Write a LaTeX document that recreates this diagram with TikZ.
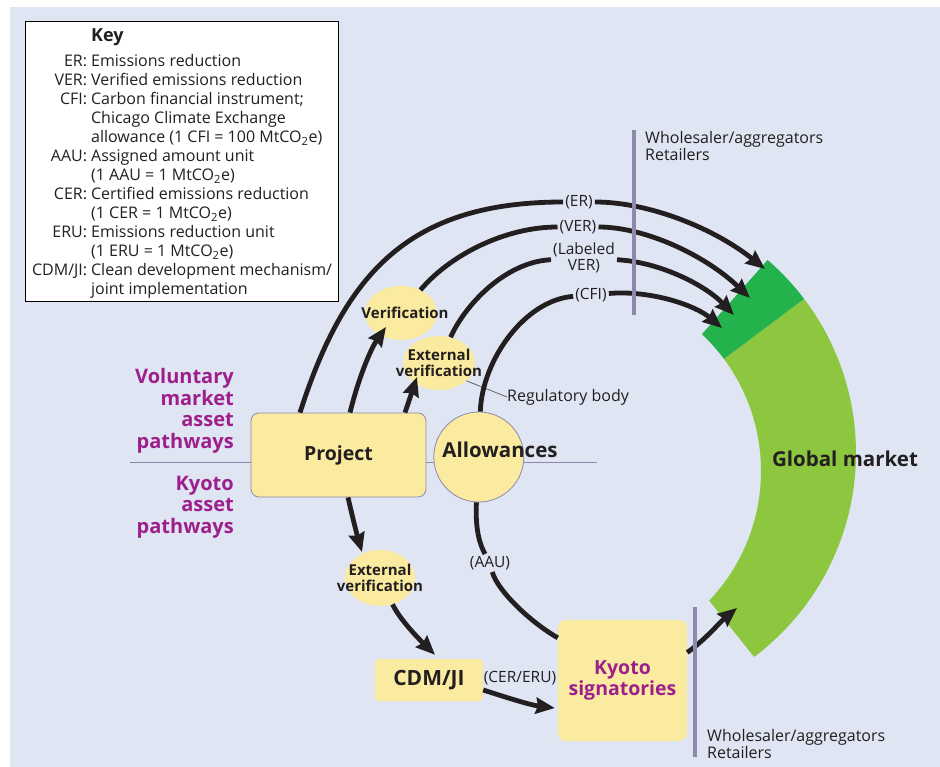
\documentclass[tikz,border=0pt]{standalone}
\usepackage{fontspec}
\setmainfont{Open Sans}
\usetikzlibrary{arrows.meta,positioning,shapes.geometric}

\definecolor{paneblue}{RGB}{223,229,243}
\definecolor{paleyellow}{RGB}{251,235,161}
\definecolor{darkgreen}{RGB}{35,178,76}
\definecolor{lightgreen}{RGB}{141,198,63}
\definecolor{plum}{RGB}{158,31,140}
\definecolor{bargrey}{RGB}{142,137,170}
\definecolor{ink}{RGB}{35,31,32}

\begin{document}
\begin{tikzpicture}[x=1pt,y=-1pt,
        flow/.style={draw=ink,line width=4.8pt,-{Stealth[length=19pt,width=16pt,inset=2pt]}},
        flowline/.style={draw=ink,line width=4.8pt},
        tag/.style={font=\fontsize{15.5}{16}\selectfont,text=ink,inner sep=2pt},
        bubble/.style={ellipse,fill=paleyellow,minimum width=72pt,minimum height=54pt,inner sep=0pt},
        bubtext/.style={font=\bfseries\fontsize{15}{16}\selectfont,text=ink,align=center},
        block/.style={rectangle,rounded corners=8pt,fill=paleyellow,text=ink,
          font=\bfseries\fontsize{19.5}{21}\selectfont,align=center},
        pathway/.style={font=\bfseries\fontsize{20}{21.5}\selectfont,text=plum,align=right,inner sep=0pt},
        side/.style={font=\fontsize{16}{17}\selectfont,text=ink,align=left,anchor=west,inner sep=0pt},
        tradebar/.style={draw=bargrey,line width=4.5pt}]

  \useasboundingbox (0,0) rectangle (940,767);
  \fill[white] (0,0) rectangle (940,767);
  \fill[paneblue] (10,7) rectangle (940,767);

  % global market ring
  \coordinate (oc) at (601,453);
  \coordinate (ic) at (573,471);
  \fill[lightgreen] ([shift={(-37.2:255)}]oc) arc[start angle=-37.2,end angle=53.1,radius=255]
    -- ([shift={(43.6:188)}]ic) arc[start angle=43.6,end angle=-36.6,radius=188] -- cycle;
  \fill[darkgreen] ([shift={(-49.2:255)}]oc) arc[start angle=-49.2,end angle=-37.2,radius=255]
    -- ([shift={(-36.6:188)}]ic) arc[start angle=-36.6,end angle=-46.7,radius=188] -- cycle;
  \node[font=\bfseries\fontsize{20.5}{22}\selectfont,text=ink] (global) at (845,459) {Global market};

  \draw[draw=bargrey,line width=1pt] (130,462) -- (597,462);

  % key
  \node[draw=black,fill=white,line width=1.1pt,anchor=north west,minimum width=313pt,
        minimum height=280pt,inner sep=0pt,text=ink,font=\fontsize{16}{19}\selectfont] (key) at (25,21)
    {\begin{tabular}{@{}r@{\hspace{4pt}}l@{}}
       & \rule{0pt}{19.3pt}\fontsize{18}{19}\selectfont\bfseries Key\\[6pt]
     ER: & Emissions reduction\\
     VER: & Verified emissions reduction\\
     CFI: & Carbon financial instrument;\\
      & Chicago Climate Exchange\\
      & allowance (1 CFI = 100 MtCO\textsubscript{2}e)\\
     AAU: & Assigned amount unit\\
      & (1 AAU = 1 MtCO\textsubscript{2}e)\\
     CER: & Certified emissions reduction\\
      & (1 CER = 1 MtCO\textsubscript{2}e)\\
     ERU: & Emissions reduction unit\\
      & (1 ERU = 1 MtCO\textsubscript{2}e)\\
     CDM/JI: & Clean development mechanism/\\
      & joint implementation
     \end{tabular}};

  \node[pathway,anchor=east] (volLab) at (234,411) {Voluntary\\market\\asset\\pathways};
  \node[pathway,anchor=east] (kyLab) at (234,507) {Kyoto\\asset\\pathways};

  % boxes and bubbles
  \node[block,draw=bargrey,line width=0.8pt,minimum width=175pt,minimum height=84pt] (project) at (338.5,455) {Project};
  \node[bubble,circle,draw=bargrey,line width=0.8pt,minimum size=90pt,right=7pt of project,yshift=-2pt] (allow) {};
  \node[font=\bfseries\fontsize{20.5}{22}\selectfont,text=ink] (allowText) at (500,450) {Allowances};
  \node[bubble,label={[bubtext,xshift=4pt]center:Verification}] (verif) at (401,313) {};
  \node[bubble,label={[bubtext]center:External\\verification}] (extver) at (439,363) {};
  \node[bubble,minimum width=70pt,minimum height=56pt,label={[bubtext]center:External\\verification}] (extverLow) at (380,578) {};
  \node[block,rounded corners=4pt,minimum width=108pt,minimum height=42pt,font=\bfseries\fontsize{21}{22}\selectfont] (cdm) at (429,680) {CDM/JI};
  \node[block,text=plum,minimum width=129pt,minimum height=121pt] (kyoto) at (622.5,680.5) {Kyoto\\signatories};

  \node[side] (regBody) at (507,397) {Regulatory body};
  \draw[draw=ink!70,line width=0.8pt] (extver.-33) -- (regBody.west);

  % pathway labels
  \node[tag] (erLab) at (579,202) {(ER)};
  \node[tag] (verLab) at (578,227) {(VER)};
  \node[tag,align=center] (lverLab) at (584,258) {(Labeled\\VER)};
  \node[tag] (cfiLab) at (591,295) {(CFI)};
  \node[tag] (aauLab) at (490,563) {(AAU)};
  \node[tag] (cerLab) at (520,678) {(CER/ERU)};

  \coordinate (erTip) at (765,269);
  \coordinate (verTip) at (750,298);
  \coordinate (lverTip) at (734,315);
  \coordinate (cfiTip) at (722,328);
  \coordinate (kyTip) at (737,608);

  % voluntary market flows
  \draw[flow] ([xshift=-38.5pt]project.north) .. controls (345,272) and (410,202) .. (erLab)
    .. controls (650,202) and (715,229) .. (erTip);
  \draw[flow] ([xshift=11.5pt]project.north) .. controls (358,380) and (370,350) .. ([xshift=-15pt,yshift=-14pt]verif.center);
  \draw[flow] (verif) .. controls (450,255) and (505,227) .. (verLab)
    .. controls (645,227) and (705,255) .. (verTip);
  \path ([xshift=66.5pt]project.north) edge[flow] ([xshift=-22pt,yshift=-14pt]extver.center);
  \draw[flow] (extver) .. controls (465,305) and (505,262) .. (lverLab)
    .. controls (660,262) and (705,285) .. (lverTip);
  \draw[flow] (allow) .. controls (482,360) and (525,300) .. (cfiLab)
    .. controls (650,290) and (695,305) .. (cfiTip);

  % kyoto flows
  \draw[flowline] (allow) .. controls (475,530) and (480,545) .. (aauLab)
    .. controls (497,590) and (530,622) .. ([yshift=-18pt]kyoto.north west);
  \draw[flow] ([xshift=9.5pt]project.south) .. controls (352,515) and (357,535) .. ([xshift=-18pt,yshift=26pt]extverLow.center);
  \draw[flow] (extverLow) .. controls (400,620) and (420,640) .. ([xshift=6pt,yshift=4pt]cdm.north);
  \draw[flow] ([yshift=-10pt]cdm.east) .. controls (505,697) and (530,705) .. ([xshift=-3pt,yshift=-27.5pt]kyoto.west);
  \draw[flow] ([yshift=28pt]kyoto.east) .. controls (705,640) and (720,622) .. (kyTip);

  % wholesale bars
  \draw[tradebar] (634,130) -- (634,315);
  \draw[tradebar] (695,607) -- (695,757);
  \node[side] (wholeTop) at (645,146.5) {Wholesaler/aggregators\\Retailers};
  \node[side] (wholeLow) at (707,743.5) {Wholesaler/aggregators\\Retailers};

\end{tikzpicture}
\end{document}
